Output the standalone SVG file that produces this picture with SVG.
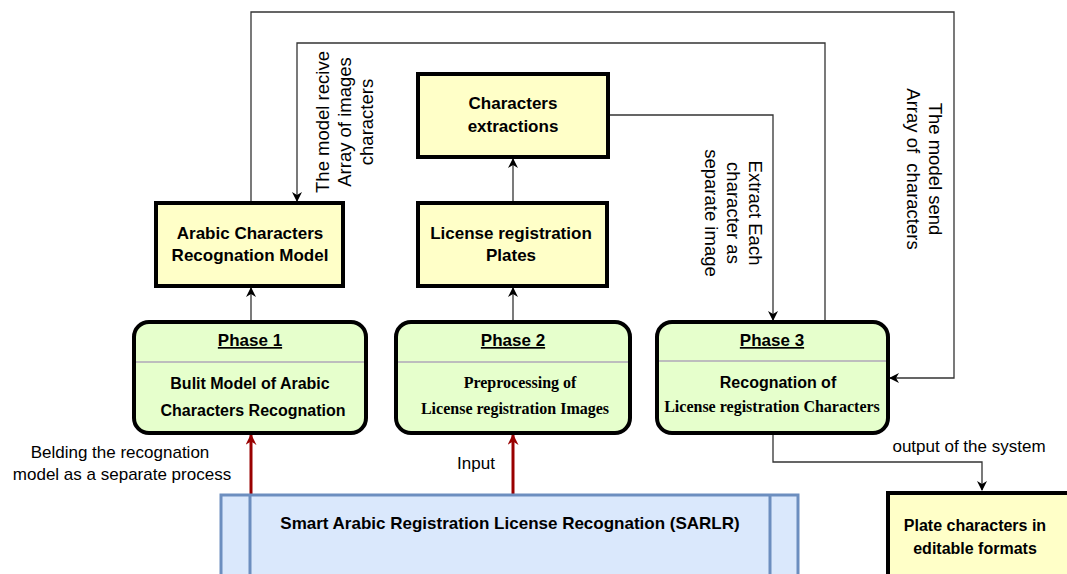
<svg xmlns="http://www.w3.org/2000/svg" width="1067" height="574" viewBox="0 0 1067 574">
<style>
.box{fill:#ffffc8;stroke:#000;stroke-width:4}
.phase{fill:#e6ffcc;stroke:#000;stroke-width:4}
.sep{stroke:#bdbdbd;stroke-width:2}
.t{font-family:"Liberation Sans",Arial,sans-serif;font-weight:bold;font-size:17px;fill:#000;text-anchor:middle}
.tb{font-family:"Liberation Sans",Arial,sans-serif;font-weight:bold;font-size:16px;fill:#000;text-anchor:middle}
.ts{font-family:"Liberation Serif","Times New Roman",serif;font-weight:bold;font-size:16px;fill:#000;text-anchor:middle}
.u{text-decoration:underline}
.lbl{font-family:"Liberation Sans",Arial,sans-serif;font-size:17px;fill:#000;text-anchor:middle}
.rl{font-family:"Liberation Sans",Arial,sans-serif;font-size:18.5px;fill:#000;text-anchor:middle;white-space:pre}
.c{fill:none;stroke:#333;stroke-width:1.3}
.r{fill:none;stroke:#990000;stroke-width:3}
</style>
<defs>
<marker id="a" viewBox="0 0 10 10" refX="9" refY="5" markerWidth="10" markerHeight="10" markerUnits="userSpaceOnUse" orient="auto">
<path d="M0,0 L10,5 L0,10 L3,5 z" fill="#000"/>
</marker>
<marker id="ar" viewBox="0 0 10 10" refX="9" refY="5" markerWidth="11" markerHeight="11" markerUnits="userSpaceOnUse" orient="auto">
<path d="M0,0 L10,5 L0,10 L3,5 z" fill="#990000"/>
</marker>
</defs>

<g id="connectors">
<path class="c" d="M251,203 V12 H954 V378 H890" marker-end="url(#a)"/>
<path class="c" d="M825,322 V43 H297 V201" marker-end="url(#a)"/>
<path class="c" d="M608,115 H773 V320" marker-end="url(#a)"/>
<path class="c" d="M773,433 V462 H982 V490" marker-end="url(#a)"/>
<path class="c" d="M251,322 V288" marker-end="url(#a)"/>
<path class="c" d="M513,322 V288" marker-end="url(#a)"/>
<path class="c" d="M513,203 V159" marker-end="url(#a)"/>
<path class="r" d="M251,495 V435" marker-end="url(#ar)"/>
<path class="r" d="M513,495 V435" marker-end="url(#ar)"/>
<text class="rl" transform="translate(345,122) rotate(-90)"><tspan x="0" y="-16">The model recive</tspan><tspan x="0" y="6">Array of images</tspan><tspan x="0" y="28">characters</tspan></text>
<text class="rl" transform="translate(733,213) rotate(90)"><tspan x="0" y="-16">Extract Each</tspan><tspan x="0" y="6">character as</tspan><tspan x="0" y="28">separate image</tspan></text>
<text class="rl" transform="translate(924,169) rotate(90)"><tspan x="0" y="-5">The model send</tspan><tspan x="0" y="17">Array of  characters</tspan></text>
<text class="lbl" x="120" y="458">Belding the recognation</text>
<text class="lbl" x="122" y="480">model as a separate process</text>
<text class="lbl" x="476" y="469">Input</text>
<text class="lbl" x="969" y="452">output of the system</text>
</g>

<g id="arabic-model">
<rect class="box" x="156" y="203" width="187" height="83"/>
<text class="t" x="250" y="239">Arabic Characters</text>
<text class="t" x="250" y="261">Recognation Model</text>
</g>

<g id="char-extractions">
<rect class="box" x="418" y="74" width="190" height="83"/>
<text class="t" x="513" y="109">Characters</text>
<text class="t" x="513" y="132">extractions</text>
</g>

<g id="plates">
<rect class="box" x="418" y="203" width="189" height="83"/>
<text class="t" x="511" y="239">License registration</text>
<text class="t" x="511" y="261">Plates</text>
</g>

<g id="phase1">
<rect class="phase" x="134" y="322" width="232" height="111" rx="15"/>
<line class="sep" x1="136" y1="362" x2="364" y2="362"/>
<text class="t u" x="250" y="346">Phase 1</text>
<text class="tb" x="250" y="389">Bulit Model of Arabic</text>
<text class="tb" x="253" y="416">Characters Recognation</text>
</g>

<g id="phase2">
<rect class="phase" x="396" y="322" width="234" height="111" rx="15"/>
<line class="sep" x1="398" y1="362" x2="628" y2="362"/>
<text class="t u" x="513" y="346">Phase 2</text>
<text class="ts" x="520" y="388">Preprocessing of</text>
<text class="ts" x="515" y="414">License registration Images</text>
</g>

<g id="phase3">
<rect class="phase" x="657" y="322" width="231" height="111" rx="15"/>
<line class="sep" x1="659" y1="361" x2="886" y2="361"/>
<text class="t u" x="772" y="346">Phase 3</text>
<text class="tb" x="778" y="388">Recognation of</text>
<text class="ts" x="772" y="412">License registration Characters</text>
</g>

<g id="sarlr">
<rect x="221" y="495" width="577" height="90" fill="#dae8fc" stroke="#6c8ebf" stroke-width="3"/>
<line x1="250" y1="495" x2="250" y2="574" stroke="#6c8ebf" stroke-width="3"/>
<line x1="770" y1="495" x2="770" y2="574" stroke="#6c8ebf" stroke-width="3"/>
<text class="t" x="510" y="529">Smart Arabic Registration License Recognation (SARLR)</text>
</g>

<g id="plate-output">
<rect class="box" x="888" y="493" width="200" height="100"/>
<text class="tb" x="975" y="531">Plate characters in</text>
<text class="tb" x="975" y="554">editable formats</text>
</g>
</svg>
